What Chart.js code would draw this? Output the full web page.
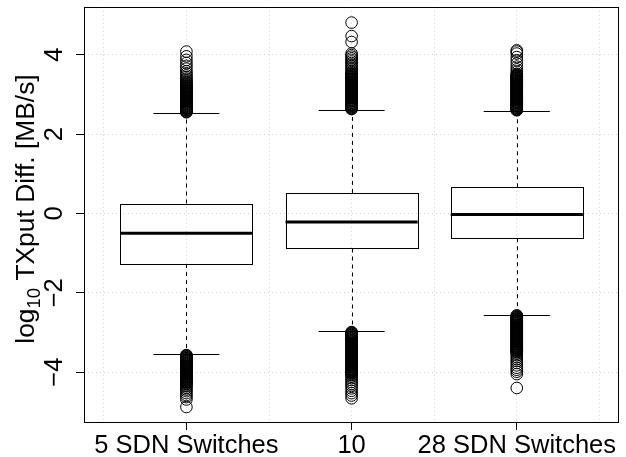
<!DOCTYPE html>
<html>
<head>
<meta charset="utf-8">
<script src="https://cdn.jsdelivr.net/npm/chart.js@4.4.1/dist/chart.umd.min.js"></script>
<style>
  html, body { margin: 0; padding: 0; background: #ffffff; }
  #wrap { width: 626px; height: 457px; position: relative; }
  canvas { display: block; }
</style>
</head>
<body>
<div id="wrap"><canvas id="c" width="626" height="457"></canvas></div>
<script>
// ---- data ----
const categories = ['5 SDN Switches', '10', '28 SDN Switches'];
const q1 = [-1.276, -0.884, -0.626];
const medians = [-0.50, -0.218, -0.026];
const q3 = [0.249, 0.516, 0.658];
const whiskerLow = [-3.55, -2.975, -2.56];
const whiskerHigh = [2.53, 2.616, 2.59];

const outliersHigh1 = [4.08, 3.96, 3.87, 3.79, 3.72, 3.65, 3.58, 3.53, 3.48, 3.44, 3.40, 3.37, 3.34, 3.31, 3.29, 3.27, 3.25, 3.23, 3.21,
  3.20,3.19,3.17,3.16,3.15,3.13,3.12,3.11,3.09,3.08,3.07,3.05,3.04,3.03,3.01,3.00,2.99,2.97,2.96,2.95,2.93,2.92,2.91,2.89,2.88,2.87,2.85,2.84,2.83,2.81,2.80,2.79,2.77,2.76,2.75,2.73,2.72,2.71,2.69,2.68,2.67,2.65,2.64,2.63,2.61,2.60,2.59,2.57,2.56,2.55];
const outliersLow1 = [-3.57,-3.58,-3.60,-3.61,-3.62,-3.64,-3.65,-3.66,-3.68,-3.69,-3.70,-3.72,-3.73,-3.74,-3.76,-3.77,-3.78,-3.80,-3.81,-3.82,-3.84,-3.85,-3.86,-3.88,-3.89,-3.90,-3.92,-3.93,-3.94,-3.96,-3.97,-3.98,-4.00,-4.01,-4.02,-4.04,-4.05,-4.06,-4.08,-4.09,-4.10,-4.12,-4.13,-4.14,-4.16,-4.17,-4.18,-4.20,-4.21,-4.22,-4.24,-4.25,-4.26,-4.28,-4.29,-4.30,
  -4.33, -4.36, -4.40, -4.44, -4.48, -4.53, -4.58, -4.63, -4.69, -4.88];
const outliersHigh2 = [4.81, 4.47, 4.32, 4.03, 3.99, 3.95, 3.91, 3.87, 3.83, 3.79, 3.75, 3.71, 3.67, 3.63, 3.59, 3.56, 3.53,
  3.51,3.50,3.48,3.47,3.46,3.44,3.43,3.42,3.40,3.39,3.38,3.36,3.35,3.34,3.32,3.31,3.30,3.28,3.27,3.26,3.24,3.23,3.22,3.20,3.19,3.18,3.16,3.15,3.14,3.12,3.11,3.10,3.08,3.07,3.06,3.04,3.03,3.02,3.00,2.99,2.98,2.96,2.95,2.94,2.92,2.91,2.90,2.88,2.87,2.86,2.84,2.83,2.82,2.80,2.79,2.78,2.76,2.75,2.74,2.72,2.71,2.70,2.68,2.67,2.66,2.64,2.63];
const outliersLow2 = [-2.99,-3.00,-3.02,-3.03,-3.04,-3.06,-3.07,-3.08,-3.10,-3.11,-3.12,-3.14,-3.15,-3.16,-3.18,-3.19,-3.20,-3.22,-3.23,-3.24,-3.26,-3.27,-3.28,-3.30,-3.31,-3.32,-3.34,-3.35,-3.36,-3.38,-3.39,-3.40,-3.42,-3.43,-3.44,-3.46,-3.47,-3.48,-3.50,-3.51,-3.52,-3.54,-3.55,-3.56,-3.58,-3.59,-3.60,-3.62,-3.63,-3.64,-3.66,-3.67,-3.68,-3.70,-3.71,-3.72,-3.74,-3.75,-3.76,-3.78,-3.79,-3.80,-3.82,-3.83,-3.84,-3.86,-3.87,-3.88,-3.90,-3.91,-3.92,-3.94,-3.95,-3.96,-3.98,-3.99,-4.00,-4.02,-4.03,-4.05,
  -4.08, -4.11, -4.15, -4.20, -4.25, -4.30, -4.35, -4.41, -4.47, -4.53, -4.59, -4.66];
const outliersHigh3 = [4.11, 4.08, 4.03, 3.94, 3.86, 3.78, 3.70, 3.63, 3.57, 3.52,
  3.50,3.49,3.47,3.46,3.45,3.43,3.42,3.41,3.39,3.38,3.37,3.35,3.34,3.33,3.31,3.30,3.29,3.27,3.26,3.25,3.23,3.22,3.21,3.19,3.18,3.17,3.15,3.14,3.13,3.11,3.10,3.09,3.07,3.06,3.05,3.03,3.02,3.01,2.99,2.98,2.97,2.95,2.94,2.93,2.91,2.90,2.89,2.87,2.86,2.85,2.83,2.82,2.81,2.79,2.78,2.77,2.75,2.74,2.73,2.71,2.70,2.69,2.67,2.66,2.65,2.63,2.62,2.61,2.60];
const outliersLow3 = [-2.57,-2.58,-2.60,-2.61,-2.62,-2.64,-2.65,-2.66,-2.68,-2.69,-2.70,-2.72,-2.73,-2.74,-2.76,-2.77,-2.78,-2.80,-2.81,-2.82,-2.84,-2.85,-2.86,-2.88,-2.89,-2.90,-2.92,-2.93,-2.94,-2.96,-2.97,-2.98,-3.00,-3.01,-3.02,-3.04,-3.05,-3.06,-3.08,-3.09,-3.10,-3.12,-3.13,-3.14,-3.16,-3.17,-3.18,-3.20,-3.21,-3.22,-3.24,-3.25,-3.26,-3.28,-3.29,-3.30,-3.32,-3.33,-3.34,-3.36,-3.37,-3.38,-3.40,-3.41,-3.42,-3.44,-3.45,-3.46,-3.48,-3.49,-3.50,
  -3.53, -3.57, -3.62, -3.67, -3.72, -3.77, -3.83, -3.89, -3.94, -3.99, -4.05, -4.40];

const yTicks = [-4, -2, 0, 2, 4];
const yTickLabels = ['\u22124', '\u22122', '0', '2', '4'];
const xGridValues = [0.5, 1, 1.5, 2, 2.5, 3, 3.5];
const yAxisTitleMain = 'log';
const yAxisTitleSub = '10';
const yAxisTitleRest = ' TXput Diff. [MB/s]';

const outlierGroups = [
  outliersHigh1.concat(outliersLow1),
  outliersHigh2.concat(outliersLow2),
  outliersHigh3.concat(outliersLow3)
];

// ---- styling ----
const FONT = "'Liberation Sans', Arial, Helvetica, sans-serif";
const TICK_SIZE = 25.5;
const TITLE_SIZE = 26.4;
const BOX_HALF = 0.4;
const CAP_HALF = 0.2;

const datasets = outlierGroups.map((vals, i) => ({
  label: categories[i],
  data: vals.map(v => ({ x: i + 1, y: v })),
  pointStyle: 'circle',
  pointRadius: 5.8,
  pointHoverRadius: 5.8,
  pointBorderWidth: 1,
  pointBorderColor: '#000000',
  pointBackgroundColor: 'rgba(0,0,0,0)',
  showLine: false
}));

const boxPlugin = {
  id: 'boxes',
  beforeDatasetsDraw(chart) {
    const ctx = chart.ctx;
    const xs = chart.scales.x, ys = chart.scales.y;
    const a = chart.chartArea;
    ctx.save();
    ctx.beginPath();
    ctx.rect(a.left, a.top, a.right - a.left, a.bottom - a.top);
    ctx.clip();
    ctx.strokeStyle = '#000000';
    for (let i = 0; i < categories.length; i++) {
      const c = i + 1;
      const xc = Math.round(xs.getPixelForValue(c)) + 0.5;
      const xl = xs.getPixelForValue(c - BOX_HALF);
      const xr = xs.getPixelForValue(c + BOX_HALF);
      const cl = xs.getPixelForValue(c - CAP_HALF);
      const cr = xs.getPixelForValue(c + CAP_HALF);
      const yq1 = ys.getPixelForValue(q1[i]);
      const yq3 = ys.getPixelForValue(q3[i]);
      const ym = ys.getPixelForValue(medians[i]);
      const ylo = ys.getPixelForValue(whiskerLow[i]);
      const yhi = ys.getPixelForValue(whiskerHigh[i]);
      ctx.lineWidth = 1;
      ctx.setLineDash([4, 4]);
      ctx.beginPath();
      ctx.moveTo(xc, yq3); ctx.lineTo(xc, yhi);
      ctx.moveTo(xc, yq1); ctx.lineTo(xc, ylo);
      ctx.stroke();
      ctx.setLineDash([]);
      ctx.beginPath();
      ctx.moveTo(cl, Math.round(yhi) + 0.5); ctx.lineTo(cr, Math.round(yhi) + 0.5);
      ctx.moveTo(cl, Math.round(ylo) + 0.5); ctx.lineTo(cr, Math.round(ylo) + 0.5);
      ctx.stroke();
      const bx = Math.round(xl) + 0.5, bw = Math.round(xr) - Math.round(xl);
      const by = Math.round(yq3) + 0.5, bh = Math.round(yq1) - Math.round(yq3);
      ctx.strokeRect(bx, by, bw, bh);
      ctx.lineWidth = 3;
      ctx.beginPath();
      ctx.moveTo(xl, ym); ctx.lineTo(xr, ym);
      ctx.stroke();
    }
    ctx.restore();
  },
  afterDraw(chart) {
    const ctx = chart.ctx;
    const ys = chart.scales.y;
    const a = chart.chartArea;
    ctx.save();
    ctx.strokeStyle = '#000000';
    ctx.lineWidth = 1;
    ctx.strokeRect(Math.round(a.left) + 0.5, Math.round(a.top) + 0.5,
      Math.round(a.right) - Math.round(a.left) - 1, Math.round(a.bottom) - Math.round(a.top));
    ctx.fillStyle = '#000000';
    ctx.font = TICK_SIZE + 'px ' + FONT;
    ctx.textAlign = 'center';
    ctx.textBaseline = 'alphabetic';
    yTicks.forEach((v, k) => {
      const y = ys.getPixelForValue(v);
      ctx.save();
      ctx.translate(62, y);
      ctx.rotate(-Math.PI / 2);
      ctx.fillText(yTickLabels[k], 0, 0);
      ctx.restore();
    });
    ctx.font = TITLE_SIZE + 'px ' + FONT;
    const wMain = ctx.measureText(yAxisTitleMain).width;
    const wRest = ctx.measureText(yAxisTitleRest).width;
    const subSize = TITLE_SIZE * 0.7;
    ctx.font = subSize + 'px ' + FONT;
    const wSub = ctx.measureText(yAxisTitleSub).width;
    const total = wMain + wSub + wRest;
    const cy = 209;
    ctx.save();
    ctx.translate(34, cy);
    ctx.rotate(-Math.PI / 2);
    ctx.textAlign = 'left';
    const x0 = -total / 2;
    ctx.font = TITLE_SIZE + 'px ' + FONT;
    ctx.fillText(yAxisTitleMain, x0, 0);
    ctx.font = subSize + 'px ' + FONT;
    ctx.fillText(yAxisTitleSub, x0 + wMain, TITLE_SIZE * 0.22);
    ctx.font = TITLE_SIZE + 'px ' + FONT;
    ctx.fillText(yAxisTitleRest, x0 + wMain + wSub, 0);
    ctx.restore();
    ctx.restore();
  }
};

new Chart(document.getElementById('c'), {
  type: 'scatter',
  data: { datasets },
  options: {
    responsive: false,
    devicePixelRatio: 1,
    animation: false,
    layout: { padding: { top: 4, right: 1, left: 0, bottom: 0 } },
    plugins: { legend: { display: false }, tooltip: { enabled: false } },
    scales: {
      x: {
        type: 'linear',
        min: 0.38,
        max: 3.62,
        afterBuildTicks: (s) => { s.ticks = xGridValues.map(v => ({ value: v })); },
        afterFit: (s) => { s.height = 35; },
        grid: {
          color: '#d3d3d3',
          lineWidth: 1,
          drawTicks: true,
          tickLength: 8,
          tickWidth: 1,
          tickBorderDash: [],
          tickColor: (ctx) => (ctx.tick && Number.isInteger(ctx.tick.value)) ? '#000000' : 'rgba(0,0,0,0)'
        },
        border: { display: false, dash: [1, 3] },
        ticks: {
          autoSkip: false,
          minRotation: 0,
          maxRotation: 0,
          padding: 1,
          color: '#000000',
          font: { family: FONT, size: TICK_SIZE },
          callback: (v) => Number.isInteger(v) ? categories[v - 1] : ''
        }
      },
      y: {
        type: 'linear',
        min: -5.2575,
        max: 5.208,
        afterBuildTicks: (s) => { s.ticks = yTicks.map(v => ({ value: v })); },
        afterFit: (s) => { s.width = 84; },
        grid: {
          color: '#d3d3d3',
          lineWidth: 1,
          drawTicks: true,
          tickLength: 8,
          tickWidth: 1,
          tickBorderDash: [],
          tickColor: '#000000'
        },
        border: { display: false, dash: [1, 3] },
        ticks: { display: false }
      }
    }
  },
  plugins: [boxPlugin]
});
</script>
</body>
</html>
